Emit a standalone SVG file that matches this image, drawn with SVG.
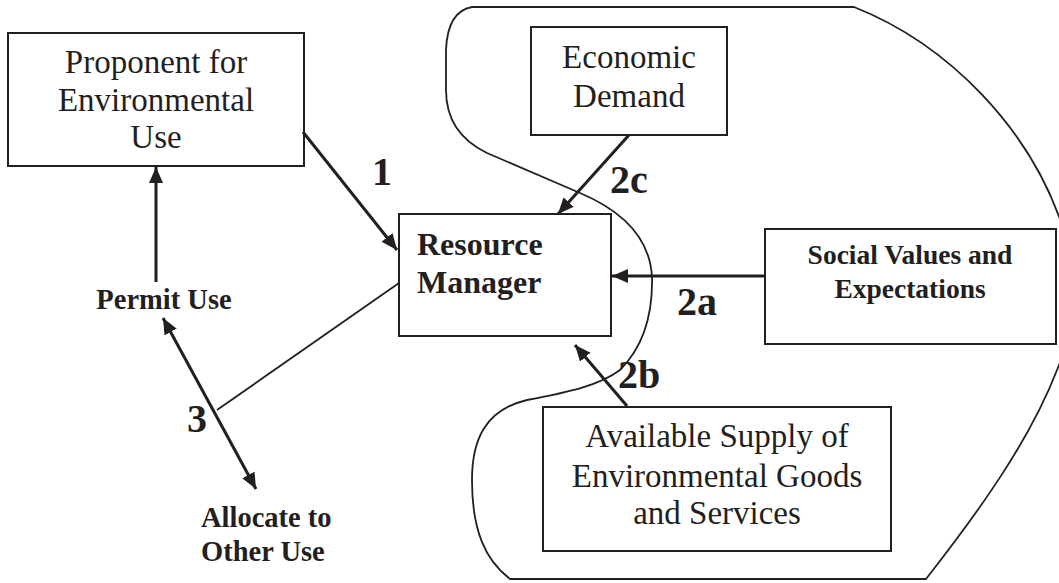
<svg xmlns="http://www.w3.org/2000/svg" width="1059" height="583" viewBox="0 0 1059 583">
<style>
.box{fill:#fff;stroke:#231f20;stroke-width:2}
.t{font-family:"Liberation Serif","Times New Roman",serif;font-size:33px;fill:#231f20;text-anchor:middle}
.b{font-family:"Liberation Serif","Times New Roman",serif;font-weight:bold;fill:#231f20}
.num{font-family:"Liberation Serif","Times New Roman",serif;font-weight:bold;font-size:40px;fill:#231f20}
.c{stroke:#231f20;stroke-width:3;fill:none}
.thin{stroke:#231f20;stroke-width:1.8;fill:none}
</style>
<defs>
<marker id="ah" markerUnits="userSpaceOnUse" markerWidth="17" markerHeight="15" refX="16" refY="7" orient="auto-start-reverse" viewBox="0 0 17 15">
<path d="M0,0 L16,7 L0,14 Z" fill="#231f20"/>
</marker>
</defs>
<rect width="1059" height="583" fill="#fff"/>
<g id="boundary">
<path class="thin" d="M472,7 L854,7 C950,45 1030,130 1062,225 C1080,290 1072,335 1057,370 C1030,440 980,510 926,579 L510,579 C485,560 472,530 472,480 C472,440 485,410 527,400 C570,392 600,385 620,370 C640,350 653,320 652,277 C650,240 625,212 580,193 L487,153 C460,140 446,120 446,90 L446,50 C447,25 455,10 472,7 Z"/>
</g>
<g id="proponent">
<rect class="box" x="8" y="33" width="296" height="133"/>
<text class="t" x="156" y="73">Proponent for</text>
<text class="t" x="156" y="111">Environmental</text>
<text class="t" x="156" y="148">Use</text>
</g>
<g id="economic">
<rect class="box" x="531" y="27" width="196" height="108"/>
<text class="t" x="629" y="68">Economic</text>
<text class="t" x="629" y="107">Demand</text>
</g>
<g id="resource-manager">
<rect class="box" x="399" y="214" width="212" height="122"/>
<text class="b" x="417" y="255" font-size="32">Resource</text>
<text class="b" x="417" y="293" font-size="32">Manager</text>
</g>
<g id="social">
<rect class="box" x="765" y="229" width="291" height="115"/>
<text class="b" x="910" y="264" font-size="27.5" text-anchor="middle">Social Values and</text>
<text class="b" x="910" y="298" font-size="27.5" text-anchor="middle">Expectations</text>
</g>
<g id="supply">
<rect class="box" x="543" y="407" width="348" height="144"/>
<text class="t" x="717" y="447">Available Supply of</text>
<text class="t" x="717" y="487">Environmental Goods</text>
<text class="t" x="717" y="524">and Services</text>
</g>
<g id="permit-use">
<text class="b" x="164" y="309" font-size="28.5" text-anchor="middle">Permit Use</text>
</g>
<g id="allocate">
<text class="b" x="201" y="527" font-size="28.5">Allocate to</text>
<text class="b" x="201" y="561" font-size="28.5">Other Use</text>
</g>
<g id="connectors">
<line class="c" x1="303" y1="132" x2="397" y2="250" marker-end="url(#ah)"/>
<line class="c" x1="156" y1="282" x2="156" y2="167" marker-end="url(#ah)"/>
<line class="c" x1="629" y1="135" x2="558" y2="214" marker-end="url(#ah)"/>
<line class="c" x1="765" y1="276" x2="612" y2="276" marker-end="url(#ah)"/>
<line class="c" x1="627" y1="406" x2="575" y2="345" marker-end="url(#ah)"/>
<line class="c" x1="163" y1="318" x2="256" y2="489" marker-start="url(#ah)" marker-end="url(#ah)"/>
<line class="thin" x1="399" y1="283" x2="217" y2="410"/>
</g>
<g id="labels">
<text class="num" x="372" y="185">1</text>
<text class="num" x="610" y="193">2c</text>
<text class="num" x="677" y="315">2a</text>
<text class="num" x="618" y="388">2b</text>
<text class="num" x="187" y="432">3</text>
</g>
</svg>
